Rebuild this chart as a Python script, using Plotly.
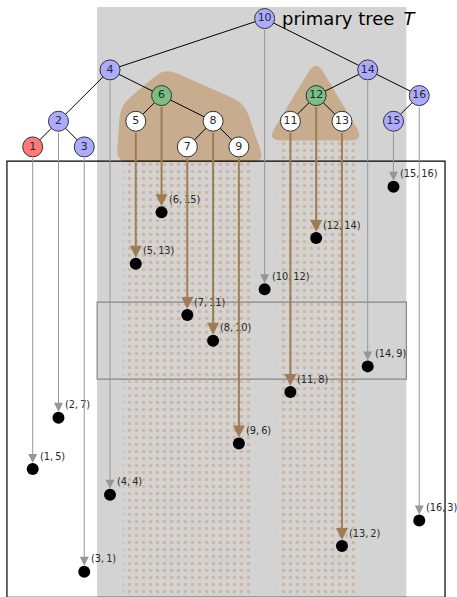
import math
import plotly.graph_objects as go

# ---------------- data ----------------
keys = list(range(1, 17))
priorities = [5, 7, 1, 4, 13, 15, 11, 10, 6, 12, 8, 14, 2, 9, 16, 3]
# vertical level of every key in the drawn tree (same units as the plot)
tree_levels = [17.55, 18.55, 17.55, 20.55, 18.55, 19.55, 17.55, 18.55,
               17.55, 22.55, 18.55, 19.55, 18.55, 20.55, 18.55, 19.55]
# parent of each key (0 = root)
parents = [2, 4, 2, 10, 6, 4, 8, 6, 8, 0, 12, 14, 12, 10, 16, 14]
node_kind = ["red", "blue", "blue", "blue", "white", "green", "white", "white",
             "white", "blue", "white", "green", "white", "blue", "blue", "blue"]
highlight = [False, False, False, False, True, True, True, True,
             True, False, True, True, True, False, False, False]

# ---------------- styles ----------------
KIND_COLOR = {"red": "rgb(255,122,122)", "blue": "rgb(172,172,255)",
              "green": "rgb(122,190,134)", "white": "white"}
GRAY_BG = "rgb(211,211,211)"
HULL = "rgb(199,173,141)"
DOTS = "rgb(206,154,102)"
BROWN = "rgb(158,124,86)"
GRAYARROW = "rgb(150,150,150)"

fig = go.Figure()


def rounded_path(pts, r):
    n = len(pts)
    segs = []
    for i in range(n):
        px, py = pts[i]
        ax, ay = pts[i - 1]
        bx, by = pts[(i + 1) % n]
        da = math.hypot(ax - px, ay - py)
        db = math.hypot(bx - px, by - py)
        a1 = (px + r * (ax - px) / da, py + r * (ay - py) / da)
        b1 = (px + r * (bx - px) / db, py + r * (by - py) / db)
        segs.append((a1, (px, py), b1))
    s = ""
    for i, (a1, p, b1) in enumerate(segs):
        s += ("M" if i == 0 else "L") + f"{a1[0]:.3f},{a1[1]:.3f}"
        s += f" Q{p[0]:.3f},{p[1]:.3f} {b1[0]:.3f},{b1[1]:.3f} "
    return s + "Z"


hullA = [(6.12, 20.62), (4.40, 19.16), (4.25, 16.95), (10.0, 16.95), (9.22, 19.25)]
hullB = [(11.99, 20.95), (10.10, 17.80), (13.86, 17.80)]

shapes = [
    dict(type="rect", x0=3.5, x1=15.5, y0=-1, y1=23.0, fillcolor=GRAY_BG,
         line=dict(width=0), layer="below"),
    dict(type="path", path=rounded_path(hullA, 0.5), fillcolor=HULL,
         line=dict(width=0), layer="below"),
    dict(type="path", path=rounded_path(hullB, 0.55), fillcolor=HULL,
         line=dict(width=0), layer="below"),
    dict(type="rect", x0=0, x1=17, y0=0, y1=17, line=dict(color="black", width=1.2),
         fillcolor="rgba(0,0,0,0)", layer="above"),
    dict(type="rect", x0=3.5, x1=15.5, y0=8.5, y1=11.5,
         line=dict(color="rgb(135,135,135)", width=1.2),
         fillcolor="rgba(0,0,0,0)", layer="above"),
]

# dotted slabs below the highlighted subtrees
for (x0, x1, ytop) in [(4.5, 9.5, 17.05), (10.5, 13.5, 17.85)]:
    fig.add_trace(go.Scatter(
        x=[x0, x1, x1, x0, x0], y=[-1, -1, ytop, ytop, -1], mode="lines",
        fill="toself", fillcolor="rgba(0,0,0,0)", line=dict(width=0),
        fillpattern=dict(shape=".", fgcolor=DOTS, bgcolor="rgba(0,0,0,0)",
                         size=7, solidity=0.2),
        hoverinfo="skip", showlegend=False))

# tree edges
ex, ey = [], []
for k, par, lv in zip(keys, parents, tree_levels):
    if par:
        ex += [par, k, None]
        ey += [tree_levels[par - 1], lv, None]
fig.add_trace(go.Scatter(x=ex, y=ey, mode="lines", line=dict(color="black", width=1),
                         hoverinfo="skip", showlegend=False))

# tree nodes
fig.add_trace(go.Scatter(
    x=keys, y=tree_levels, mode="markers+text",
    marker=dict(size=20, color=[KIND_COLOR[c] for c in node_kind],
                line=dict(color="rgb(50,50,50)", width=1)),
    text=[str(k) for k in keys], textposition="middle center",
    textfont=dict(family="DejaVu Sans", size=11, color="rgb(40,40,40)"),
    hoverinfo="skip", showlegend=False))

# points
fig.add_trace(go.Scatter(
    x=keys, y=priorities, mode="markers",
    marker=dict(size=12, color="black", line=dict(width=0)),
    hoverinfo="skip", showlegend=False))

annotations = []
for k, p, lv, hl in zip(keys, priorities, tree_levels, highlight):
    annotations.append(dict(
        x=k, y=p, ax=k, ay=lv, xref="x", yref="y", axref="x", ayref="y",
        text="", showarrow=True, arrowhead=2,
        arrowsize=1.2 if hl else 1.8, arrowwidth=2 if hl else 1,
        arrowcolor=BROWN if hl else GRAYARROW,
        startstandoff=10, standoff=6))
    annotations.append(dict(
        x=k, y=p, xref="x", yref="y", text=f"({k},\u2009{p})", showarrow=False,
        xanchor="left", yanchor="middle", xshift=5, yshift=13,
        font=dict(family="DejaVu Sans", size=9.8, color="rgb(40,40,40)")))

annotations.append(dict(
    x=10.6, y=22.55, xref="x", yref="y", showarrow=False,
    text="primary tree\u2002<i>T</i>", xanchor="left", yanchor="middle",
    font=dict(family="DejaVu Sans", size=18, color="black")))

fig.update_layout(
    width=457, height=597, autosize=False,
    margin=dict(l=0, r=0, t=0, b=0),
    paper_bgcolor="white", plot_bgcolor="white",
    xaxis=dict(range=[-0.269, 17.465], visible=False, fixedrange=True),
    yaxis=dict(range=[0.016, 23.273], visible=False, fixedrange=True),
    shapes=shapes, annotations=annotations, showlegend=False)

fig.write_html("out.html", config={"displayModeBar": False},
               post_script="document.body.style.margin='0';")
